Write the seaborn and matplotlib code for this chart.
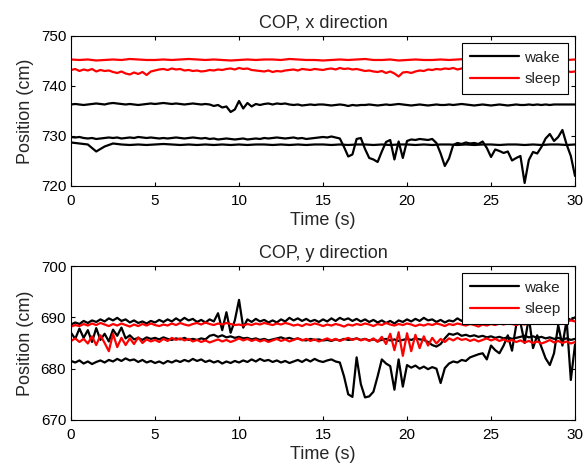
import numpy as np
import pandas as pd
import seaborn as sns
import matplotlib.pyplot as plt
from matplotlib.lines import Line2D

# ---- data (position in cm) ----
# COP, x direction
xs_wake1 = [
    736.3, 736.4, 736.3, 736.2, 736.3, 736.4, 736.5, 736.4, 736.3, 736.5,
    736.6, 736.5, 736.4, 736.3, 736.4, 736.3, 736.2, 736.3, 736.4, 736.5,
    736.4, 736.5, 736.6, 736.5, 736.4, 736.5, 736.4, 736.3, 736.4, 736.5,
    736.4, 736.3, 736.4, 736.3, 736.0, 736.2, 735.7, 735.9, 734.8, 735.3,
    737.0, 735.5, 736.6, 735.9, 736.4, 736.2, 736.4, 736.5, 736.3, 736.5,
    736.4, 736.5, 736.3, 736.2, 736.3, 736.1, 736.2, 736.3, 736.2, 736.3,
    736.3, 736.2, 736.1, 736.2, 736.3, 736.2, 736.0, 736.2, 736.1, 736.2,
    736.2, 736.3, 736.2, 736.1, 736.2, 736.3, 736.2, 736.3, 736.4, 736.3,
    736.2, 736.1, 736.2, 736.3, 736.2, 736.1, 736.2, 736.3, 736.2, 736.2,
    736.3, 736.2, 736.3, 736.4, 736.3, 736.2, 736.1, 736.2, 736.3, 736.2,
    736.1, 736.2, 736.3, 736.2, 736.1, 736.2, 736.3, 736.2, 736.2, 736.3,
    736.2, 736.3, 736.2, 736.3, 736.2, 736.3, 736.3, 736.3, 736.3, 736.3,
    736.3]
xs_wake2 = [
    729.8, 729.7, 729.8, 729.6, 729.5, 729.6, 729.4, 729.5, 729.6, 729.7,
    729.6, 729.7, 729.5, 729.6, 729.7, 729.6, 729.8, 729.7, 729.6, 729.7,
    729.6, 729.5, 729.6, 729.5, 729.6, 729.7, 729.6, 729.5, 729.6, 729.7,
    729.6, 729.5, 729.6, 729.4, 729.5, 729.3, 729.4, 729.5, 729.4, 729.3,
    729.4, 729.5, 729.3, 729.4, 729.5, 729.4, 729.6, 729.5, 729.6, 729.7,
    729.6, 729.5, 729.6, 729.7, 729.5, 729.6, 729.4, 729.5, 729.6, 729.7,
    729.8, 729.7, 729.9, 729.7, 729.5, 727.8, 725.9, 726.3, 729.4, 729.6,
    727.4, 725.6, 725.3, 724.8, 726.9, 728.8, 729.2, 725.3, 728.9, 725.6,
    729.0, 729.3, 729.2, 729.4, 729.3, 729.2, 729.4, 728.6, 726.5, 724.0,
    725.5, 728.2, 728.6, 728.4, 728.7, 728.5, 728.6, 728.4, 728.9, 727.6,
    725.8, 727.3, 727.0, 726.6, 726.9, 725.1, 725.6, 726.0, 720.6, 725.2,
    726.8, 726.5, 727.8, 729.5, 730.4, 729.0, 729.8, 731.2, 728.3, 726.0,
    722.0]
xs_wake3 = [
    728.7, 728.5, 728.3, 726.9, 727.9, 728.5, 728.3, 728.2, 728.3, 728.2,
    728.3, 728.4, 728.3, 728.2, 728.3, 728.2, 728.3, 728.2, 728.3, 728.2,
    728.3, 728.2, 728.3, 728.3, 728.2, 728.3, 728.2, 728.3, 728.2, 728.3,
    728.3, 728.2, 728.3, 728.2, 728.3, 728.3, 728.2, 728.3, 728.2, 728.3,
    728.3, 728.2, 728.3, 728.2, 728.3, 728.3, 728.2, 728.3, 728.2, 728.3,
    728.3, 728.2, 728.3, 728.3, 728.2, 728.3, 728.2, 728.3, 728.3, 728.2,
    728.3]
xs_sleep1 = [
    745.3, 745.2, 745.3, 745.1, 745.2, 745.3, 745.2, 745.4, 745.3, 745.2,
    745.2, 745.3, 745.2, 745.3, 745.4, 745.3, 745.2, 745.3, 745.2, 745.1,
    745.2, 745.3, 745.2, 745.3, 745.3, 745.2, 745.4, 745.3, 745.2, 745.2,
    745.1, 745.2, 745.3, 745.2, 745.3, 745.4, 745.2, 745.2, 745.3, 745.1,
    745.2, 745.3, 745.2, 745.2, 745.3, 745.2, 745.3, 745.4, 745.3, 745.2,
    745.3, 745.2, 745.1, 745.2, 745.3, 745.2, 745.3, 745.2, 745.3, 745.2,
    745.3]
xs_sleep2 = [
    743.2, 743.4, 743.0, 743.3, 743.1, 743.4, 742.9, 743.2, 743.0, 743.1,
    742.8, 742.6, 742.9, 742.5, 742.3, 742.7, 742.4, 742.8, 742.2, 742.9,
    743.1, 743.3, 743.4, 743.2, 743.5, 743.3, 743.4, 743.1, 743.2, 743.0,
    743.1, 742.9, 743.0, 743.2, 743.1, 743.3, 743.2, 743.4, 743.5, 743.3,
    743.6, 743.4, 743.5, 743.2, 743.1, 743.0, 742.9, 743.1, 742.8, 743.0,
    742.9, 743.1, 743.2, 743.3, 743.1, 743.4, 743.3, 743.2, 743.4, 743.3,
    743.2, 743.4, 743.5, 743.3, 743.6, 743.4, 743.5, 743.3, 743.4, 743.2,
    743.0, 743.1, 742.9, 742.8, 743.0, 742.6, 742.9, 742.5, 741.9, 742.7,
    742.8, 742.6, 742.9, 743.1, 743.0, 743.3, 743.2, 743.4, 743.3, 743.5,
    743.4, 743.6, 743.3, 743.5, 743.4, 743.6, 743.5, 743.3, 743.4, 743.2,
    743.3, 743.1, 743.0, 743.2, 742.9, 743.1, 743.2, 743.4, 743.3, 743.5,
    743.4, 743.3, 743.5, 743.2, 743.0, 743.1, 742.9, 743.2, 743.0, 742.8,
    742.9]

# COP, y direction
ys_wake1 = [
    688.6, 689.0, 688.7, 689.3, 688.9, 689.4, 689.1, 689.6, 689.2, 689.8,
    689.4, 689.9, 689.3, 689.6, 689.0, 689.4, 688.9, 689.2, 688.8, 689.3,
    689.0, 689.5, 689.1, 689.6, 689.2, 689.8, 689.3, 689.9, 689.4, 689.7,
    689.1, 689.5, 689.0, 689.6, 689.2, 690.8, 687.5, 691.0, 687.0, 689.4,
    693.4, 688.0, 689.6, 689.1, 689.7, 689.2, 689.5, 689.0, 689.4, 689.0,
    689.6, 689.2, 689.9, 689.4, 689.8, 689.3, 689.7, 689.2, 689.5, 689.1,
    689.6, 689.2, 689.8, 689.3, 689.9, 689.5, 689.8, 689.3, 689.7, 689.2,
    689.6, 689.1, 689.5, 689.0, 689.4, 688.9, 689.3, 688.8, 689.4, 689.1,
    689.6, 689.2, 689.7, 689.3, 689.9, 689.4, 689.6, 689.1, 689.5, 689.0,
    689.4, 689.2, 689.8, 689.3, 689.9, 689.5, 689.8, 689.2, 689.6, 689.1,
    689.5, 689.0, 689.6, 689.1, 689.7, 689.3, 689.8, 689.4, 689.9, 689.5,
    689.8, 689.3, 689.9, 689.4, 690.0, 689.5, 689.8, 689.3, 689.9, 689.5,
    690.0]
ys_wake2 = [
    687.0, 685.8, 687.8, 686.0, 687.5, 685.2, 687.9, 685.6, 686.8, 685.3,
    687.6, 686.4, 688.0, 685.9, 686.5, 685.7, 686.0, 685.6, 686.1, 685.8,
    686.0, 685.7, 686.1, 685.8, 685.6, 685.9, 685.7, 686.0, 685.6, 685.8,
    685.6, 685.9, 685.7, 686.4, 686.6, 686.2, 686.5, 686.1, 686.3, 686.0,
    686.2, 685.9, 686.0, 685.7, 685.9, 685.6, 685.8, 685.5, 685.7, 685.9,
    686.1, 685.8, 686.0, 685.7, 685.9, 685.6, 685.5, 685.8, 685.6, 685.7,
    685.5, 685.6, 685.4, 685.7, 685.5, 685.8, 685.6, 685.7, 685.9, 685.6,
    685.8, 685.5, 685.7, 685.4, 685.6, 685.8, 685.5, 685.7, 685.4, 685.6,
    685.8, 685.6, 685.9, 685.7, 685.6, 685.2, 684.6, 684.3, 684.8, 685.9,
    686.8, 686.6, 686.9, 686.4, 686.6, 686.3, 686.5, 686.2, 686.4, 686.1,
    686.3, 686.0, 686.2, 685.9, 686.1, 685.8, 686.0, 686.2, 686.4, 686.1,
    686.3, 686.0, 686.2, 685.9, 686.1, 685.8, 686.0, 685.7, 685.9, 685.6,
    685.8]
ys_wake3 = [
    681.5, 681.2, 681.6, 681.0, 681.4, 680.9, 681.3, 681.6, 681.2, 681.7,
    681.4, 681.9, 681.5, 682.0, 681.6, 681.8, 681.3, 681.7, 681.2, 681.5,
    681.1, 681.4, 681.0, 681.5, 681.2, 681.6, 681.3, 681.7, 681.4, 681.9,
    681.5, 681.8, 681.3, 681.6, 681.2, 681.5, 681.0, 681.4, 681.1, 681.5,
    681.2, 681.6, 681.3, 681.8, 681.4, 681.9, 681.5, 681.7, 681.3, 681.6,
    681.2, 681.5, 681.1, 681.4, 681.7, 681.3, 681.8, 681.4, 681.9, 681.5,
    681.3, 681.6, 681.8, 681.4, 681.2, 678.5, 675.0, 674.5, 682.2, 677.0,
    674.4, 674.6, 675.5, 678.5, 681.8, 681.0, 680.5, 675.9, 681.8, 676.5,
    680.7, 680.2, 680.6, 680.0, 680.4, 679.9, 680.3, 680.0, 677.2, 680.1,
    681.0, 681.4, 681.2, 681.7, 681.5, 682.2, 682.5, 682.8, 683.0, 681.8,
    684.5, 683.6, 683.0, 684.5, 686.5, 683.5, 688.5, 689.0, 685.0, 690.0,
    684.0, 686.5, 684.2, 682.0, 680.7, 683.0, 688.5, 684.5, 689.5, 677.8,
    684.7]
ys_sleep1 = [
    688.2, 688.5, 688.3, 688.7, 688.4, 688.8, 688.5, 688.9, 688.6, 688.3,
    688.7, 688.4, 688.8, 688.5, 688.2, 688.6, 688.3, 688.7, 688.4, 688.8,
    688.5, 688.3, 688.6, 688.4, 688.8, 688.5, 688.9, 688.6, 688.4, 688.7,
    688.9, 688.6, 689.0, 688.7, 688.5, 688.8, 688.6, 688.9, 688.7, 688.5,
    688.6, 688.4, 688.7, 688.5, 688.8, 688.6, 688.9, 688.7, 688.5, 688.8,
    688.6, 688.9, 688.7, 688.4, 688.6, 688.3, 688.7, 688.5, 688.8, 688.6,
    688.3, 688.6, 688.4, 688.7, 688.5, 688.2, 688.6, 688.4, 688.7, 688.5,
    688.8, 688.6, 688.3, 688.7, 688.5, 688.9, 688.6, 688.4, 688.7, 688.5,
    688.8, 688.6, 688.3, 688.6, 688.4, 688.7, 688.5, 688.8, 688.6, 688.3,
    688.7, 688.5, 688.8, 688.6, 688.4, 688.7, 688.5, 688.2, 688.6, 688.4,
    688.7, 688.5, 688.8, 688.6, 688.9, 688.7, 688.5, 688.8, 688.6, 688.9,
    688.7, 689.0, 688.8, 689.1, 688.9, 689.2, 689.0, 689.3, 689.1, 689.4,
    689.2]
ys_sleep2 = [
    685.4, 685.9, 685.2, 685.8, 684.9, 686.3, 684.6, 686.5, 685.0, 683.4,
    686.8, 684.2, 686.0, 684.6, 685.9, 684.8, 686.1, 685.0, 685.7, 685.3,
    685.6, 685.2, 685.8, 685.4, 686.0, 685.6, 685.9, 685.5, 685.8, 685.3,
    685.6, 685.2, 685.5, 685.1, 685.4, 685.7, 685.3, 685.6, 685.2, 685.5,
    685.9, 685.5, 685.8, 685.4, 685.7, 685.3, 685.6, 685.2, 685.5, 685.8,
    685.4, 685.7, 685.3, 685.6, 685.9, 685.5, 685.8, 685.4, 685.7, 685.3,
    685.6, 685.9, 685.5, 685.8, 685.4, 685.7, 686.0, 685.6, 685.9, 685.5,
    685.8, 685.4, 685.9, 685.2, 686.2, 684.8, 686.8, 683.6, 687.1, 682.5,
    686.9, 683.4, 686.6, 684.0, 686.3, 684.5, 686.0, 684.9, 685.8, 685.2,
    685.9, 685.5, 686.0, 685.6, 685.8, 685.4, 685.7, 685.3, 685.6, 685.9,
    685.5, 685.8, 685.4, 685.7, 685.3, 685.6, 685.2, 685.5, 685.1, 685.4,
    685.0, 685.3, 684.9, 685.2, 685.6, 685.1, 685.4, 685.0, 685.3, 684.9,
    685.2]

panels = [
    ("COP, x direction", [720, 730, 740, 750],
     [("wake", xs_wake1), ("wake", xs_wake2), ("wake", xs_wake3),
      ("sleep", xs_sleep1), ("sleep", xs_sleep2)]),
    ("COP, y direction", [670, 680, 690, 700],
     [("wake", ys_wake1), ("wake", ys_wake2), ("wake", ys_wake3),
      ("sleep", ys_sleep1), ("sleep", ys_sleep2)]),
]
time_ticks = [0, 5, 10, 15, 20, 25, 30]
colors = {"wake": "black", "sleep": "#ff0000"}

sns.set_style("ticks")
plt.rcParams["font.family"] = ["Liberation Sans", "DejaVu Sans"]
plt.rcParams["xtick.direction"] = "in"
plt.rcParams["ytick.direction"] = "in"
plt.rcParams["xtick.top"] = True
plt.rcParams["ytick.right"] = True

fig = plt.figure(figsize=(5.87, 4.68), dpi=100)
boxes = [[0.121, 0.6026, 0.8586, 0.3205], [0.121, 0.1026, 0.8586, 0.329]]

for box, (title, yticks, series) in zip(boxes, panels):
    ax = fig.add_axes(box)
    rows = []
    for k, (state, vals) in enumerate(series):
        t = np.linspace(0, 30, len(vals))
        rows.append(pd.DataFrame({"time": t, "position": vals,
                                  "state": state, "trial": k}))
    df = pd.concat(rows, ignore_index=True)
    # wake first, sleep drawn on top
    for state in ["wake", "sleep"]:
        sub = df[df["state"] == state]
        sns.lineplot(data=sub, x="time", y="position", units="trial",
                     estimator=None, sort=False, color=colors[state],
                     linewidth=1.6, legend=False, ax=ax)
    ax.set_xlim(0, 30)
    ax.set_ylim(yticks[0], yticks[-1])
    ax.set_xticks(time_ticks)
    ax.set_yticks(yticks)
    ax.tick_params(labelsize=11, length=3, width=0.8, colors="black")
    ax.tick_params(axis="x", pad=6)
    ax.tick_params(axis="y", pad=3.5)
    for sp in ax.spines.values():
        sp.set_visible(True)
        sp.set_color("black")
        sp.set_linewidth(0.8)
    ax.set_title(title, fontsize=13)
    ax.set_xlabel("Time (s)", fontsize=13, labelpad=3)
    ax.set_ylabel("Position (cm)", fontsize=13, labelpad=5)
    handles = [Line2D([], [], color=colors[s], linewidth=1.6) for s in ["wake", "sleep"]]
    leg = ax.legend(handles, ["wake", "sleep"], loc="upper right", fontsize=11,
                    frameon=True, fancybox=False, framealpha=1, edgecolor="black",
                    handlelength=3.2, handletextpad=0.35, borderaxespad=0.45,
                    borderpad=0.5, labelspacing=0.5)
    leg.get_frame().set_linewidth(0.8)

fig.savefig("out.png", dpi=100)
